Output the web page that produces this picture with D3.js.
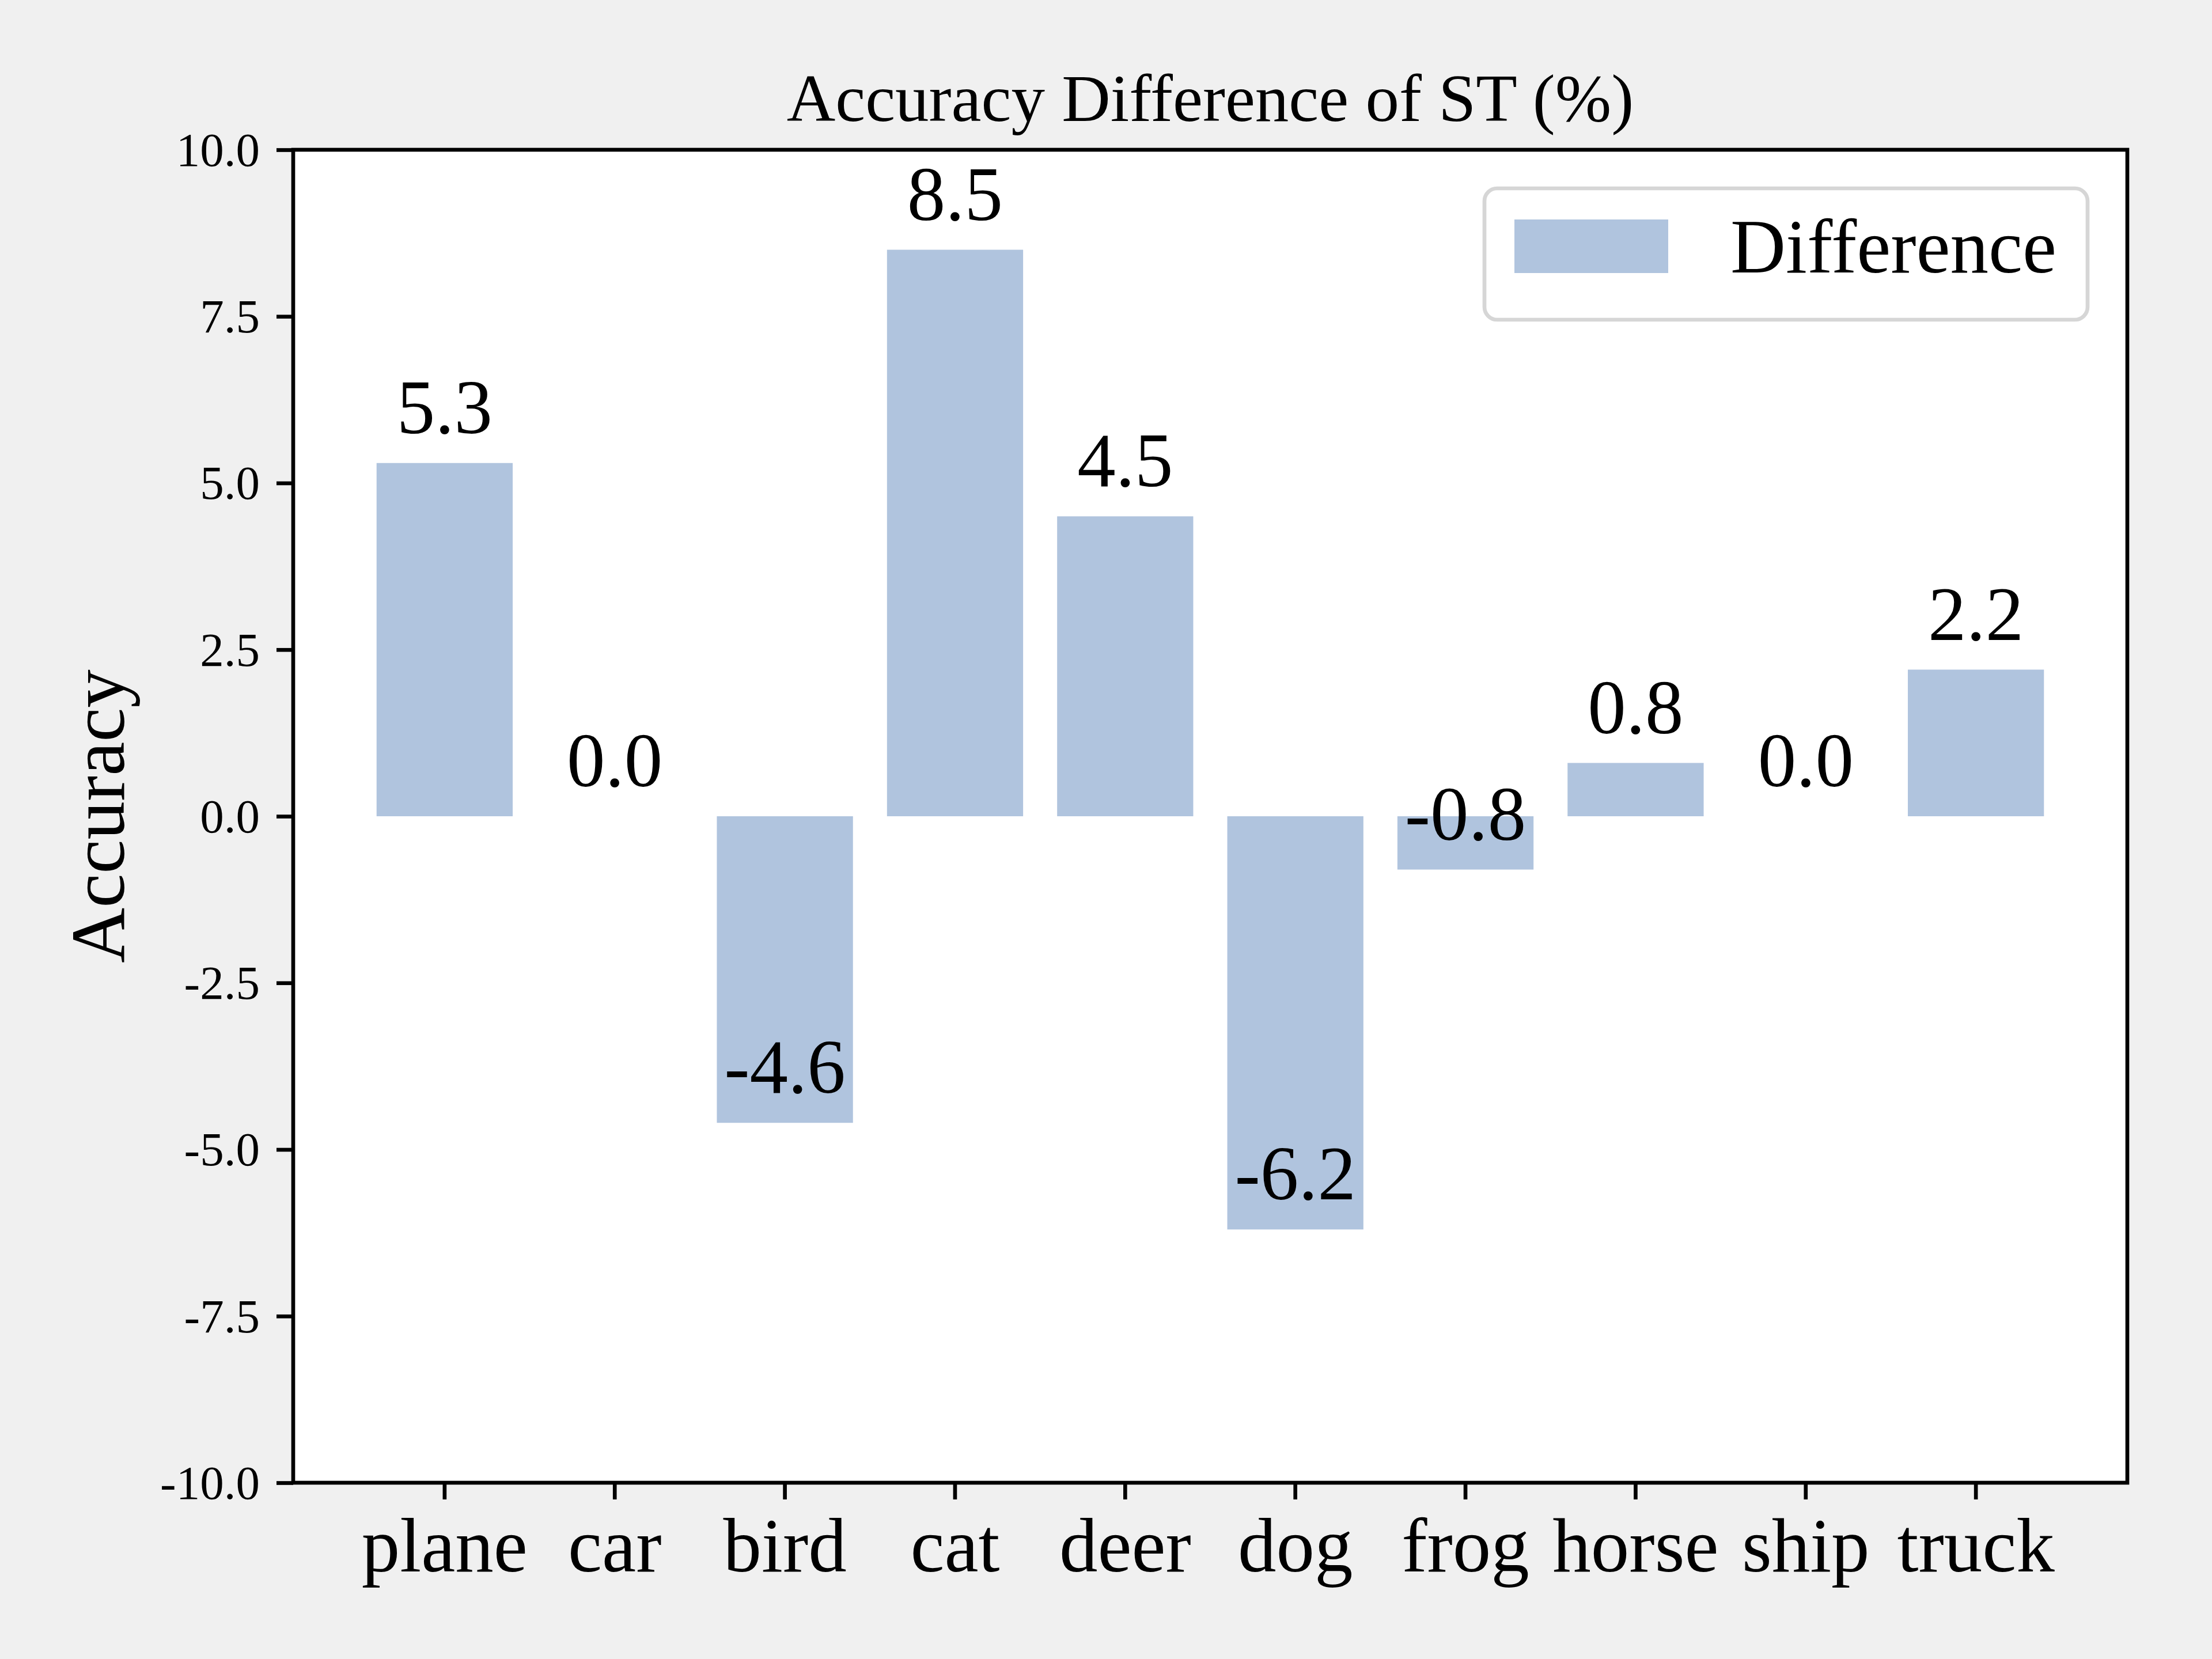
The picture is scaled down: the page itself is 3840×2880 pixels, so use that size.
<!DOCTYPE html>
<html>
<head>
<meta charset="utf-8">
<script src="https://cdn.jsdelivr.net/npm/d3@7"></script>
<style>
  html, body { margin: 0; padding: 0; background: #f0f0f0; }
  svg { display: block; }
  text { font-family: "Liberation Serif", "Times New Roman", serif; fill: #000; }
</style>
</head>
<body>
<svg id="chart" width="3840" height="2880"></svg>
<script>
// ---- data ----
const categories = ["plane", "car", "bird", "cat", "deer", "dog", "frog", "horse", "ship", "truck"];
const differences = [5.3, 0.0, -4.6, 8.5, 4.5, -6.2, -0.8, 0.8, 0.0, 2.2];
const yTickValues = [-10, -7.5, -5, -2.5, 0, 2.5, 5, 7.5, 10];
const yTickLabels = ["-10.0", "-7.5", "-5.0", "-2.5", "0.0", "2.5", "5.0", "7.5", "10.0"];
const titleText = "Accuracy Difference of ST (%)";
const yLabelText = "Accuracy";
const legendLabel = "Difference";

// ---- layout ----
const W = 3840, H = 2880;
const plot = { left: 509, right: 3693, top: 260, bottom: 2574 };
const barColor = "#b0c4de";
const lw = 6.67;           // 0.8pt at 600dpi
const tickLen = 29;
const tickPad = 29;
const bigFont = 133;       // 16pt
const smallFont = 83;      // 10pt
const titleFont = 117;     // 14pt

const svg = d3.select("#chart");
svg.append("rect").attr("x", 0).attr("y", 0).attr("width", W).attr("height", H).attr("fill", "#f0f0f0");

const x = d3.scaleBand()
  .domain(categories)
  .range([plot.left, plot.right])
  .paddingInner(0.2)
  .paddingOuter(0.49);

const y = d3.scaleLinear()
  .domain([-10, 10])
  .range([plot.bottom, plot.top]);

// axes background
svg.append("rect")
  .attr("x", plot.left).attr("y", plot.top)
  .attr("width", plot.right - plot.left).attr("height", plot.bottom - plot.top)
  .attr("fill", "#ffffff");

// bars
svg.append("g").selectAll("rect")
  .data(categories.map((c, i) => ({ c, v: differences[i] })))
  .join("rect")
  .attr("x", d => x(d.c))
  .attr("width", x.bandwidth())
  .attr("y", d => Math.min(y(d.v), y(0)))
  .attr("height", d => Math.abs(y(d.v) - y(0)))
  .attr("fill", barColor);

// value labels (placed at v+0.2, bottom-aligned)
svg.append("g").selectAll("text")
  .data(categories.map((c, i) => ({ c, v: differences[i] })))
  .join("text")
  .attr("x", d => x(d.c) + x.bandwidth() / 2)
  .attr("y", d => y(d.v + 0.2) - 0.216 * bigFont)
  .attr("text-anchor", "middle")
  .attr("font-size", bigFont)
  .text(d => d.v.toFixed(1));

// y axis
const yAxis = d3.axisLeft(y)
  .tickValues(yTickValues)
  .tickFormat((d, i) => yTickLabels[i])
  .tickSizeInner(tickLen)
  .tickSizeOuter(0)
  .tickPadding(tickPad);
const gy = svg.append("g").attr("transform", `translate(${plot.left},0)`).call(yAxis);
gy.select(".domain").remove();
gy.selectAll(".tick line").attr("stroke", "#000").attr("stroke-width", lw);
gy.selectAll(".tick text")
  .attr("font-family", "Liberation Serif, serif")
  .attr("font-size", smallFont)
  .attr("dy", null)
  .attr("y", 0.33 * smallFont)
  .attr("fill", "#000");

// x axis
const xAxis = d3.axisBottom(x)
  .tickSizeInner(tickLen)
  .tickSizeOuter(0)
  .tickPadding(tickPad);
const gx = svg.append("g").attr("transform", `translate(0,${plot.bottom})`).call(xAxis);
gx.select(".domain").remove();
gx.selectAll(".tick line").attr("stroke", "#000").attr("stroke-width", lw);
gx.selectAll(".tick text")
  .attr("font-family", "Liberation Serif, serif")
  .attr("font-size", bigFont)
  .attr("dy", null)
  .attr("y", 2728 - plot.bottom)
  .attr("fill", "#000");

// spines
svg.append("rect")
  .attr("x", plot.left).attr("y", plot.top)
  .attr("width", plot.right - plot.left).attr("height", plot.bottom - plot.top)
  .attr("fill", "none").attr("stroke", "#000").attr("stroke-width", lw);

// title
svg.append("text")
  .attr("x", (plot.left + plot.right) / 2)
  .attr("y", 210)
  .attr("text-anchor", "middle")
  .attr("font-size", titleFont)
  .text(titleText);

// y label
svg.append("text")
  .attr("transform", `translate(215,${(plot.top + plot.bottom) / 2}) rotate(-90)`)
  .attr("text-anchor", "middle")
  .attr("font-size", bigFont)
  .text(yLabelText);

// legend
const lg = svg.append("g");
lg.append("rect")
  .attr("x", 2577).attr("y", 327)
  .attr("width", 3624 - 2577).attr("height", 555 - 327)
  .attr("rx", 22).attr("ry", 22)
  .attr("fill", "#ffffff").attr("fill-opacity", 0.8)
  .attr("stroke", "#d6d6d6").attr("stroke-width", lw);
lg.append("rect")
  .attr("x", 2629).attr("y", 381)
  .attr("width", 267).attr("height", 93)
  .attr("fill", barColor);
lg.append("text")
  .attr("x", 3004).attr("y", 473)
  .attr("font-size", bigFont)
  .text(legendLabel);
</script>
</body>
</html>
